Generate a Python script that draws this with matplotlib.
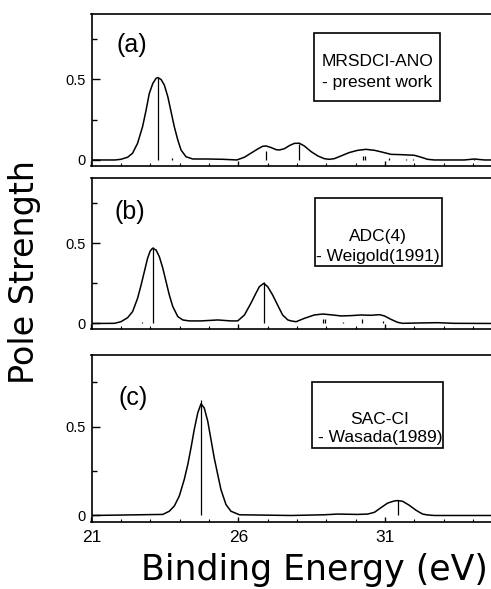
import matplotlib
matplotlib.use("Agg")
from matplotlib import pyplot as plt
from matplotlib.patches import Rectangle
from matplotlib.ticker import FixedLocator, MultipleLocator

# (a) MRSDCI-ANO - present work : envelope
a_env_e = [21.0, 21.8, 22.0, 22.23, 22.40, 22.57, 22.74, 22.86, 22.97, 23.09, 23.20, 23.26,
           23.37, 23.48, 23.60, 23.71, 23.82, 23.94, 24.05, 24.22, 24.45, 24.96, 25.5, 25.95,
           26.21, 26.43, 26.66, 26.83, 26.95, 27.12, 27.29, 27.40, 27.57, 27.75, 27.91, 28.08,
           28.25, 28.48, 28.71, 28.93, 29.10, 29.27, 29.50, 29.78, 30.07, 30.35, 30.64, 30.92,
           31.20, 31.55, 32.0, 32.23, 32.45, 32.68, 33.70, 34.04, 34.38, 34.8]
a_env_s = [0.0, 0.0, 0.004, 0.017, 0.042, 0.104, 0.207, 0.31, 0.414, 0.476, 0.507, 0.512,
           0.50, 0.466, 0.393, 0.30, 0.207, 0.124, 0.062, 0.02, 0.006, 0.006, 0.004, 0.0,
           0.017, 0.042, 0.068, 0.085, 0.087, 0.077, 0.064, 0.062, 0.07, 0.09, 0.103, 0.104,
           0.087, 0.052, 0.025, 0.008, 0.004, 0.008, 0.025, 0.046, 0.06, 0.066, 0.06, 0.048,
           0.035, 0.033, 0.029, 0.017, 0.004, 0.0, 0.0, 0.006, 0.0, 0.0]
a_stick_e = [23.26, 23.73, 26.95, 28.08, 30.24, 30.32, 31.15, 31.72, 31.94, 34.04]
a_stick_s = [0.51, 0.015, 0.058, 0.10, 0.025, 0.025, 0.012, 0.008, 0.006, 0.008]

# (b) ADC(4) - Weigold(1991)
b_env_e = [21.0, 21.78, 22.0, 22.23, 22.40, 22.57, 22.69, 22.80, 22.91, 23.0, 23.08, 23.20,
           23.31, 23.43, 23.54, 23.65, 23.77, 23.94, 24.11, 24.33, 24.73, 25.30, 25.75, 25.98,
           26.21, 26.43, 26.60, 26.72, 26.87, 27.0, 27.17, 27.34, 27.51, 27.69, 27.80, 27.97,
           28.25, 28.59, 28.88, 29.22, 29.50, 29.84, 30.18, 30.52, 30.81, 30.98, 31.20, 31.43,
           31.60, 32.11, 32.79, 33.35, 34.8]
b_env_s = [0.0, 0.001, 0.011, 0.036, 0.074, 0.157, 0.24, 0.323, 0.406, 0.452, 0.469, 0.458,
           0.417, 0.344, 0.261, 0.178, 0.105, 0.043, 0.022, 0.016, 0.016, 0.022, 0.016, 0.016,
           0.053, 0.126, 0.188, 0.23, 0.25, 0.23, 0.178, 0.115, 0.053, 0.022, 0.016, 0.011,
           0.032, 0.053, 0.059, 0.053, 0.047, 0.049, 0.053, 0.051, 0.055, 0.047, 0.026, 0.007,
           0.001, 0.003, 0.005, 0.001, 0.0]
b_stick_e = [22.71, 23.08, 26.87, 28.88, 28.96, 29.56, 30.23, 30.94, 32.62]
b_stick_s = [0.01, 0.475, 0.26, 0.03, 0.03, 0.01, 0.028, 0.015, 0.005]

# (c) SAC-CI - Wasada(1989)
c_env_e = [21.0, 23.43, 23.65, 23.82, 23.99, 24.16, 24.28, 24.39, 24.50, 24.62, 24.73, 24.84,
           24.96, 25.07, 25.18, 25.30, 25.41, 25.58, 25.75, 26.04, 27.80, 28.93, 29.39, 30.07,
           30.41, 30.64, 30.86, 31.09, 31.32, 31.43, 31.60, 31.83, 32.06, 32.28, 32.45, 32.68,
           34.8]
c_env_s = [0.0, 0.006, 0.024, 0.053, 0.109, 0.203, 0.287, 0.381, 0.484, 0.578, 0.629, 0.606,
           0.531, 0.428, 0.325, 0.231, 0.146, 0.062, 0.024, 0.004, 0.0, 0.004, 0.008, 0.006,
           0.008, 0.018, 0.044, 0.07, 0.082, 0.084, 0.08, 0.057, 0.029, 0.008, 0.003, 0.0,
           0.0]
c_stick_e = [24.74, 31.43]
c_stick_s = [0.65, 0.085]

panel_tags = ["(a)", "(b)", "(c)"]
box_lines = [["MRSDCI-ANO", "- present work"],
             ["ADC(4)", "- Weigold(1991)"],
             ["SAC-CI", "- Wasada(1989)"]]

y_major = [0, 0.5]
y_minor = [0.25, 0.75]
x_major = [21, 26, 31]

W, H = 491, 589


def fx(x):
    return x / W


def fy(y):
    return 1 - y / H


def plot_spectra():
    fig = plt.figure(figsize=(W / 100, H / 100), dpi=100)

    # axes frames in pixels: (top, bottom)
    frames = [(14.3, 165.6), (178.3, 329.1), (354.8, 521.7)]
    envs = [(a_env_e, a_env_s), (b_env_e, b_env_s), (c_env_e, c_env_s)]
    sticks = [(a_stick_e, a_stick_s), (b_stick_e, b_stick_s), (c_stick_e, c_stick_s)]
    tag_pos = [(116, 45), (115, 211.5), (118, 398)]
    boxes = [(314, 33, 440, 101), (315, 198, 442, 266), (312, 382, 443, 448)]
    box_text = [(377.5, 66, 87), (377.5, 241, 261), (380, 424, 442)]

    for i in range(3):
        top, bot = frames[i]
        ax = fig.add_axes([fx(91.5), fy(bot), fx(496 - 91.5), (bot - top) / H])
        ax.plot(envs[i][0], envs[i][1], color="k", lw=1.1)
        ax.vlines(sticks[i][0], 0, sticks[i][1], color="k", lw=0.9)

        ax.set_xlim(21, 34.78)
        ax.set_ylim(-0.035, 0.905)
        ax.spines["right"].set_visible(False)
        for s in ["left", "top", "bottom"]:
            ax.spines[s].set_linewidth(1.2)

        ax.xaxis.set_major_locator(FixedLocator(x_major))
        ax.xaxis.set_minor_locator(MultipleLocator(1))
        ax.yaxis.set_major_locator(FixedLocator(y_major))
        ax.yaxis.set_minor_locator(FixedLocator(y_minor))
        ax.set_yticklabels(["0", "0.5"], family="Liberation Sans", fontsize=10.5)
        ax.tick_params(axis="y", which="major", direction="in", length=5.8, width=1, pad=4.3)
        ax.tick_params(axis="y", which="minor", direction="in", length=3.6, width=1)
        ax.tick_params(axis="x", which="major", direction="in", length=3.6, width=1, pad=6)
        ax.tick_params(axis="x", which="minor", direction="in", length=2.2, width=0.8)
        if i < 2:
            ax.set_xticklabels([])
        else:
            ax.set_xticklabels([str(v) for v in x_major], family="Liberation Sans", fontsize=12.5)

        fig.text(fx(tag_pos[i][0]), fy(tag_pos[i][1]), panel_tags[i], ha="left", va="center",
                 family="Liberation Sans", fontsize=18)

        x0, y0, x1, y1 = boxes[i]
        fig.add_artist(Rectangle((fx(x0), fy(y1)), fx(x1 - x0), (y1 - y0) / H,
                                 transform=fig.transFigure, fill=False, ec="k", lw=1.2))
        bx, b1, b2 = box_text[i]
        fig.text(fx(bx), fy(b1), box_lines[i][0], ha="center", va="baseline",
                 family="Liberation Sans", fontsize=12.5)
        fig.text(fx(bx), fy(b2), box_lines[i][1], ha="center", va="baseline",
                 family="Liberation Sans", fontsize=12.5)

    fig.text(fx(25), fy(272), "Pole Strength", rotation=90, ha="center", va="center",
             family="DejaVu Sans", fontsize=24)
    fig.text(fx(314), fy(570), "Binding Energy (eV)", ha="center", va="center",
             family="DejaVu Sans", fontsize=25)

    fig.savefig("out.png", dpi=100)


if __name__ == "__main__":
    plot_spectra()
